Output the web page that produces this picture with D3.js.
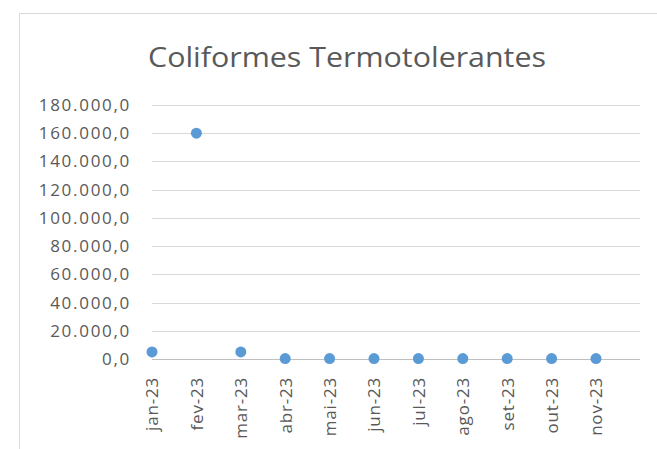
<!DOCTYPE html>
<html>
<head>
<meta charset="utf-8">
<script src="https://cdn.jsdelivr.net/npm/d3@7"></script>
<style>
  body { margin: 0; background: #fff; }
  svg { font-family: "Open Sans", sans-serif; }
</style>
</head>
<body>
<div id="canvas"></div>
<script>
// data
var months = ['jan-23','fev-23','mar-23','abr-23','mai-23','jun-23','jul-23','ago-23','set-23','out-23','nov-23'];
var values = [5000, 160000, 5000, 300, 300, 300, 300, 300, 300, 300, 300];
var yTicks = [0, 20000, 40000, 60000, 80000, 100000, 120000, 140000, 160000, 180000];
var title = 'Coliformes Termotolerantes';

var W = 657, H = 449;

var svg = d3.select('#canvas')
    .append('svg')
    .attr('width', W)
    .attr('height', H);

// chart area border (only left and top visible)
svg.append('path')
    .attr('d', 'M19.5,' + H + 'V13.5H' + W)
    .attr('fill', 'none')
    .attr('stroke', '#d9d9d9');

svg.append('text')
    .attr('x', 347)
    .attr('y', 67)
    .attr('text-anchor', 'middle')
    .attr('font-size', 28)
    .attr('textLength', 398)
    .attr('lengthAdjust', 'spacingAndGlyphs')
    .attr('fill', '#595959')
    .text(title);

var scaleY = d3.scaleLinear()
    .domain([0, 180000])
    .range([359, 105]);

var scaleX = d3.scalePoint()
    .domain(months)
    .range([152, 596]);

var plot = svg.append('g');

// gridlines
plot.selectAll('line.grid')
    .data(yTicks)
    .enter()
    .append('line')
    .attr('class', 'grid')
    .attr('x1', 152)
    .attr('x2', 640)
    .attr('y1', function(d){ return Math.round(scaleY(d)) + 0.5; })
    .attr('y2', function(d){ return Math.round(scaleY(d)) + 0.5; })
    .attr('stroke', function(d){ return d === 0 ? '#bfbfbf' : '#d9d9d9'; });

// y axis labels, pt-BR style 180.000,0
var fmt = function(d){
    return d3.format(',.1f')(d).replace(/,/g, '#').replace('.', ',').replace(/#/g, '.');
};
var axisY = d3.axisLeft(scaleY)
    .tickValues(yTicks)
    .tickFormat(fmt)
    .tickSize(0)
    .tickPadding(21);
var gy = svg.append('g')
    .attr('transform', 'translate(152,0)')
    .call(axisY);
gy.select('.domain').remove();
gy.selectAll('text')
    .attr('font-family', '"Open Sans", sans-serif')
    .attr('font-size', 17)
    .attr('letter-spacing', 1.7)
    .attr('fill', '#595959');

// x axis labels
var axisX = d3.axisBottom(scaleX)
    .tickSize(0)
    .tickPadding(0);
var gx = svg.append('g')
    .attr('transform', 'translate(0,359)')
    .call(axisX);
gx.select('.domain').remove();
gx.selectAll('text')
    .attr('font-family', '"Open Sans", sans-serif')
    .attr('font-size', 17)
    .attr('letter-spacing', 0.8)
    .attr('fill', '#595959')
    .attr('text-anchor', 'end')
    .attr('transform', 'translate(0,18) rotate(-90)')
    .attr('x', 0)
    .attr('y', 0)
    .attr('dy', '0.35em');

// points
plot.selectAll('circle')
    .data(values)
    .enter()
    .append('circle')
    .attr('cx', function(d, i){ return scaleX(months[i]); })
    .attr('cy', function(d){ return scaleY(d); })
    .attr('r', 5.5)
    .attr('fill', '#5b9bd5');
</script>
</body>
</html>
